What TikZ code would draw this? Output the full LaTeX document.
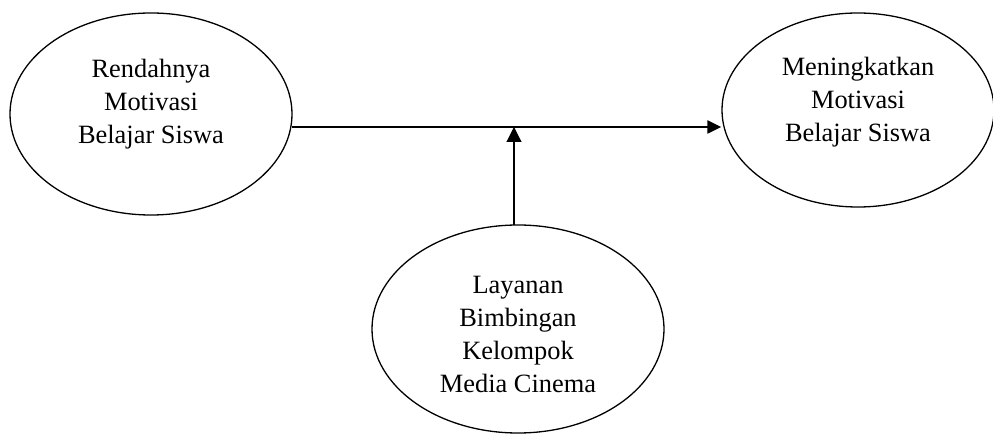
\documentclass[tikz,border=0pt]{standalone}
\usepackage{fontspec}
\setmainfont{Liberation Serif}
\usetikzlibrary{shapes.geometric,arrows.meta}
\begin{document}
\begin{tikzpicture}[x=1pt,y=-1pt,
  oval/.style={draw,ellipse,line width=1.3pt,inner sep=0pt},
  txt/.style={align=center,font=\fontsize{26.4}{33}\selectfont,inner sep=0pt},
  tip/.style={-{Triangle[length=14pt,width=13pt]}}]
\useasboundingbox (0,0) rectangle (993,435);
\node[oval,minimum width=282pt,minimum height=202pt] (L) at (151,114) {};
\node[oval,minimum width=272pt,minimum height=194pt] (R) at (858,110) {};
\node[oval,minimum width=292pt,minimum height=208pt] (B) at (518,329) {};
\node[txt] (Lt) at (151,104) {Rendahnya\\Motivasi\\Belajar Siswa};
\node[txt] (Rt) at (858,102) {Meningkatkan\\Motivasi\\Belajar Siswa};
\node[txt] (Bt) at (518,334) {Layanan\\Bimbingan\\Kelompok\\Media Cinema};
\coordinate (hs) at (292,127);
\coordinate (vs) at (514,225);
\draw[tip,line width=2.2pt] (hs) -- (hs -| R.west);
\draw[-{Triangle[length=15pt,width=15pt]},line width=1.1pt] (vs) -- (vs |- hs);
\end{tikzpicture}
\end{document}
